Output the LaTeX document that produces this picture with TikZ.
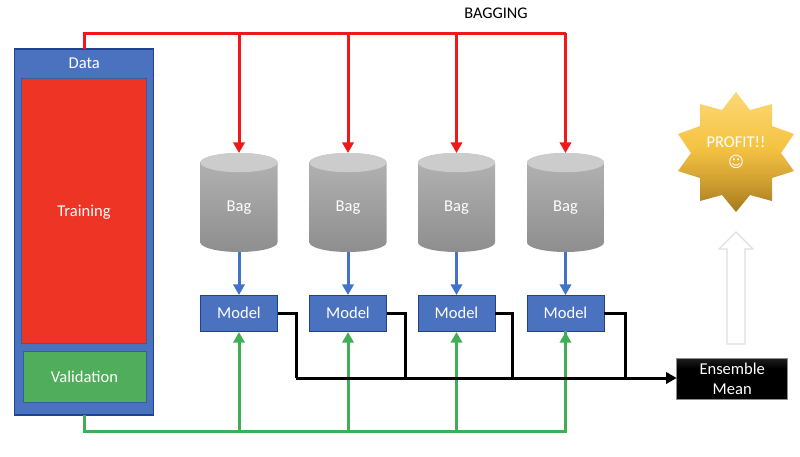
\documentclass[tikz,border=0pt]{standalone}
\usepackage{fontspec}
\setmainfont{Carlito}
\newfontfamily\symfont{DejaVu Sans}
\usetikzlibrary{arrows.meta,calc}
\definecolor{cblue}{HTML}{4A72BF}
\definecolor{cblueb}{HTML}{1F4390}
\definecolor{cred}{HTML}{EE3424}
\definecolor{cgreen}{HTML}{4FAD5B}
\definecolor{lred}{HTML}{F01818}
\definecolor{lgreen}{HTML}{3FAE55}
\definecolor{lblue}{HTML}{4472C4}
\definecolor{bagtop}{RGB}{180,180,180}
\definecolor{bagbot}{RGB}{142,142,142}
\definecolor{startop}{RGB}{251,216,118}
\definecolor{starmid}{RGB}{245,195,66}
\definecolor{starlow}{RGB}{208,160,50}
\definecolor{starbot}{RGB}{165,122,30}
\pgfdeclareverticalshading{ensshade}{100bp}{color(0bp)=(black);color(62bp)=(black);color(100bp)=(black!65!white)}
\pgfdeclareverticalshading{starshade}{100bp}{color(0bp)=(starbot);color(25bp)=(starbot);color(38bp)=(starlow);color(52bp)=(starmid);color(75bp)=(startop);color(100bp)=(startop)}
\tikzset{
  x=0.75pt,y=-0.75pt,
  txt/.style={text=white,font=\fontsize{12.4}{15}\selectfont},
  box/.style={draw,inner sep=0pt,outer sep=0pt,align=center,txt},
  modelbox/.style={box,fill=cblue,draw=cblueb,line width=0.7pt,minimum width=57.75pt,minimum height=27pt},
  baghold/.style={inner sep=0pt,outer sep=0pt,minimum width=57.75pt,minimum height=74.25pt},
  wire/.style={line width=2.25pt,line join=miter},
  tip/.style={-{Triangle[width=8.5pt,length=8pt]}},
  redwire/.style={wire,draw=lred},
  greenwire/.style={wire,draw=lgreen},
  bluewire/.style={wire,draw=lblue,tip},
  blackwire/.style={wire,draw=black}
}
\newcommand{\bagdraw}[2]{%
  \shade[top color=bagtop,bottom color=bagbot]
    ($(#1.north west)+(0,9.6)$) -- ($(#1.south west)+(0,-9.6)$)
    arc[start angle=180,end angle=360,x radius=28.875pt,y radius=7.2pt]
    -- ($(#1.north east)+(0,9.6)$)
    arc[start angle=0,end angle=180,x radius=28.875pt,y radius=7.2pt] -- cycle;
  \fill[black!20] ($(#1.north)+(0,9.6)$) ellipse[x radius=28.875pt,y radius=7.2pt];
  \node[txt,inner sep=0pt] (#2) at ($(#1.center)+(0,5.5)$) {Bag};
}
\begin{document}
\begin{tikzpicture}
\useasboundingbox (0,0) rectangle (800,457);
% data
\node[box,fill=cblue,draw=cblueb,line width=0.8pt,minimum width=104.25pt,minimum height=274.5pt] (data) at (84.2,232) {};
\node[txt,inner sep=0pt] (datalabel) at (84.2,63) {Data};
\node[box,fill=cred,draw=cblue!80!black,line width=0.5pt,minimum width=93.5pt,minimum height=198.75pt,text depth=0pt] (train) at (84,211) {Training};
\node[box,fill=cgreen,draw=cblue!80!black,line width=0.5pt,minimum width=92.5pt,minimum height=38.25pt] (valid) at (84.5,377) {Validation};
% bags
\foreach \n/\x in {1/239,2/348,3/456.5,4/565.5}{
  \node[baghold] (bag\n) at (\x,202.5) {};
  \bagdraw{bag\n}{baglabel\n}
  \node[modelbox] (model\n) at (\x,313) {Model};
}
% green
\coordinate (gbus) at (84.2,431);
\draw[greenwire] (data.south) -- (gbus) -| (model4.south);
\foreach \n in {1,2,3,4}{\draw[greenwire,tip,shorten >=0.8pt] (model\n.south |- gbus) -- (model\n.south);}
% black
\node[box,draw=black!45,line width=0.6pt,shading=ensshade,minimum width=83.25pt,minimum height=30.75pt] (ens) at (732.2,378.5) {Ensemble\\Mean};
\coordinate (kbus) at (296,378);
\draw[blackwire] (model1.east) -- (296,313) -- (kbus);
\draw[blackwire,tip] (kbus) -- (ens.west |- kbus);
\coordinate (k2) at (405,378);
\coordinate (k3) at (512,378);
\coordinate (k4) at (625,378);
\draw[blackwire] (model2.east) -| (k2);
\draw[blackwire] (model3.east) -| (k3);
\draw[blackwire] (model4.east) -| (k4);
% red
\coordinate (rbus) at (84.2,33);
\draw[redwire] (data.north) -- (rbus) -- (bag4.north |- rbus);
\foreach \n in {1,2,3,4}{
  \draw[redwire,tip] (bag\n.north |- rbus) -- (bag\n.north);
  \draw[bluewire] (bag\n.south) -- (model\n.north);
}
\node[inner sep=0pt,font=\fontsize{12.2}{15}\selectfont] (bagging) at (496,13) {BAGGING};
% white arrow
\draw[draw=black!12,fill=white,line width=0.9pt,line join=miter]
  (736,232) -- (753,249) -- (745,249) -- (745,344) -- (727,344) -- (727,249) -- (719,249) -- cycle;
% star
\shade[shading=starshade]
  (736,92) -- (750,110) -- (772,104) -- (772,126) -- (794,134) -- (781,153) -- (794,171) -- (772,178) -- (772,201) -- (750,195)
  -- (736,212) -- (722,195) -- (700,201) -- (700,178) -- (678,171) -- (691,153) -- (678,134) -- (700,126) -- (700,104) -- (722,110) -- cycle;
\node[txt,align=center,inner sep=0pt] (profit) at (736,152) {PROFIT!!\\{\symfont\fontsize{11.5}{15}\selectfont ☺}};
\end{tikzpicture}
\end{document}
